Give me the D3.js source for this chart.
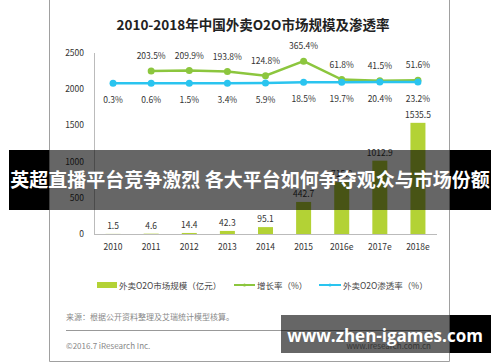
<!DOCTYPE html>
<html>
<head>
<meta charset="utf-8">
<script src="https://cdn.jsdelivr.net/npm/d3@7"></script>
<style>
  body { margin: 0; background: #fff; }
  svg { display: block; font-family: "Noto Sans CJK SC", "Noto Sans", sans-serif; }
</style>
</head>
<body>
<svg id="chart" width="500" height="362"></svg>
<script>
var years = ['2010', '2011', '2012', '2013', '2014', '2015', '2016e', '2017e', '2018e'];
var market = [1.5, 4.6, 14.4, 42.3, 95.1, 442.7, 715.8, 1012.9, 1535.5];
var growth = [null, 203.5, 209.9, 193.8, 124.8, 365.4, 61.8, 41.5, 51.6];
var penetration = [0.3, 0.6, 1.5, 3.4, 5.9, 18.5, 19.7, 20.4, 23.2];
var yTicks = [0, 500, 1000, 1500, 2000, 2500];

var barColor = '#b3d235', greenColor = '#8cc63e', blueColor = '#2ac4ef';

var svg = d3.select('#chart');

// frame
svg.append('path')
  .attr('d', 'M49.5,0 V361.5 H449.5 V0')
  .attr('fill', 'none').attr('stroke', '#a0a0a0').attr('stroke-width', 1);

svg.append('text')
  .attr('x', 253).attr('y', 30)
  .attr('text-anchor', 'middle')
  .attr('font-size', 13.5).attr('font-weight', 'bold').attr('fill', '#222')
  .text('2010-2018年中国外卖O2O市场规模及渗透率');

var x = d3.scalePoint().domain(years).range([94, 437]).padding(0.5);
var y = d3.scaleLinear().domain([0, 2500]).range([234, 53]);
var y2 = d3.scaleLinear().domain([-2500, 500]).range([235, 53]);

// y axis
svg.append('line').attr('x1', 94.5).attr('x2', 94.5).attr('y1', 53).attr('y2', 234)
  .attr('stroke', '#bbb');
svg.selectAll('.ytick').data(yTicks).enter().append('text')
  .attr('x', 84).attr('y', d => y(d) + 3)
  .attr('text-anchor', 'end').attr('font-size', 8.5).attr('fill', '#333')
  .text(d => d);

// bars
var bw = 15;
svg.selectAll('.bar').data(market).enter().append('rect')
  .attr('x', (d, i) => x(years[i]) - bw / 2)
  .attr('y', d => y(d))
  .attr('width', bw)
  .attr('height', d => y(0) - y(d))
  .attr('fill', barColor);

svg.selectAll('.barlab').data(market).enter().append('text')
  .attr('x', (d, i) => x(years[i]))
  .attr('y', d => y(d) - 5)
  .attr('text-anchor', 'middle').attr('font-size', 8.5).attr('fill', '#333')
  .text(d => d);

// x axis
svg.append('line').attr('x1', 94).attr('x2', 437).attr('y1', 234.5).attr('y2', 234.5)
  .attr('stroke', '#bbb').attr('stroke-width', 1.2);
svg.selectAll('.xlab').data(years).enter().append('text')
  .attr('x', d => x(d)).attr('y', 250)
  .attr('text-anchor', 'middle').attr('font-size', 8.5).attr('fill', '#333')
  .text(d => d);

// lines
var gData = years.map((d, i) => ({ k: d, v: growth[i] })).filter(d => d.v != null);
var pData = years.map((d, i) => ({ k: d, v: penetration[i] }));
var line = d3.line().x(d => x(d.k)).y(d => y2(d.v));

svg.append('path').datum(gData).attr('d', line)
  .attr('fill', 'none').attr('stroke', greenColor).attr('stroke-width', 2.5);
svg.selectAll('.gdot').data(gData).enter().append('circle')
  .attr('cx', d => x(d.k)).attr('cy', d => y2(d.v)).attr('r', 3.5).attr('fill', greenColor);
svg.selectAll('.glab').data(gData).enter().append('text')
  .attr('x', d => x(d.k)).attr('y', d => y2(d.v) - 12)
  .attr('text-anchor', 'middle').attr('font-size', 8.5).attr('fill', '#333')
  .text(d => d.v.toFixed(1) + '%');

svg.append('path').datum(pData).attr('d', line)
  .attr('fill', 'none').attr('stroke', blueColor).attr('stroke-width', 2.5);
svg.selectAll('.pdot').data(pData).enter().append('circle')
  .attr('cx', d => x(d.k)).attr('cy', d => y2(d.v)).attr('r', 3.5).attr('fill', blueColor);
svg.selectAll('.plab').data(pData).enter().append('text')
  .attr('x', d => x(d.k)).attr('y', d => y2(d.v) + 20)
  .attr('text-anchor', 'middle').attr('font-size', 8.5).attr('fill', '#333')
  .text(d => d.v.toFixed(1) + '%');

// legend
var lg = svg.append('g').attr('font-size', 8.5).attr('fill', '#444');
lg.append('rect').attr('x', 97).attr('y', 282).attr('width', 20).attr('height', 6).attr('fill', barColor);
lg.append('text').attr('x', 119).attr('y', 288.5).text('外卖O2O市场规模（亿元）');
lg.append('line').attr('x1', 234).attr('x2', 255).attr('y1', 285).attr('y2', 285)
  .attr('stroke', greenColor).attr('stroke-width', 2);
lg.append('circle').attr('cx', 244.5).attr('cy', 285).attr('r', 1.5).attr('fill', greenColor);
lg.append('text').attr('x', 257).attr('y', 288.5).text('增长率（%）');
lg.append('line').attr('x1', 319).attr('x2', 341).attr('y1', 285).attr('y2', 285)
  .attr('stroke', blueColor).attr('stroke-width', 2);
lg.append('circle').attr('cx', 330).attr('cy', 285).attr('r', 1.5).attr('fill', blueColor);
lg.append('text').attr('x', 343).attr('y', 288.5).text('外卖O2O渗透率（%）');

// footer
svg.append('text').attr('x', 66).attr('y', 320).attr('font-size', 8).attr('fill', '#888')
  .text('来源：根据公开资料整理及艾瑞统计模型核算。');
svg.append('line').attr('x1', 66).attr('x2', 432).attr('y1', 330.5).attr('y2', 330.5)
  .attr('stroke', '#999');
svg.append('text').attr('x', 66).attr('y', 349).attr('font-size', 8).attr('fill', '#888')
  .text('©2016.7 iResearch Inc.');
svg.append('text').attr('x', 431).attr('y', 349).attr('text-anchor', 'end')
  .attr('font-size', 8).attr('fill', '#888')
  .text('www.iresearch.com.cn');

// overlay banner
function band(x0, x1, y0, y1) {
  svg.append('rect').attr('x', x0).attr('y', y0).attr('width', 49 - x0 > 0 ? 49 - x0 : 0)
    .attr('height', y1 - y0).attr('fill', '#000');
  svg.append('rect').attr('x', Math.max(x0, 49)).attr('y', y0).attr('width', 450 - Math.max(x0, 49))
    .attr('height', y1 - y0).attr('fill', 'rgba(0,0,0,0.6)');
  svg.append('rect').attr('x', 450).attr('y', y0).attr('width', x1 - 450)
    .attr('height', y1 - y0).attr('fill', '#000');
}
band(9, 491, 150, 210);
svg.append('text').attr('x', 250).attr('y', 187)
  .attr('text-anchor', 'middle').attr('font-size', 19).attr('font-weight', 'bold').attr('fill', '#fff')
  .text('英超直播平台竞争激烈 各大平台如何争夺观众与市场份额');

band(281, 491, 315, 353);
svg.append('text').attr('x', 385).attr('y', 342)
  .attr('text-anchor', 'middle').attr('font-size', 17).attr('font-weight', 'bold').attr('fill', '#fff')
  .attr('font-family', '"Open Sans", "Noto Sans", sans-serif')
  .text('www.zhen-igames.com');
</script>
</body>
</html>
